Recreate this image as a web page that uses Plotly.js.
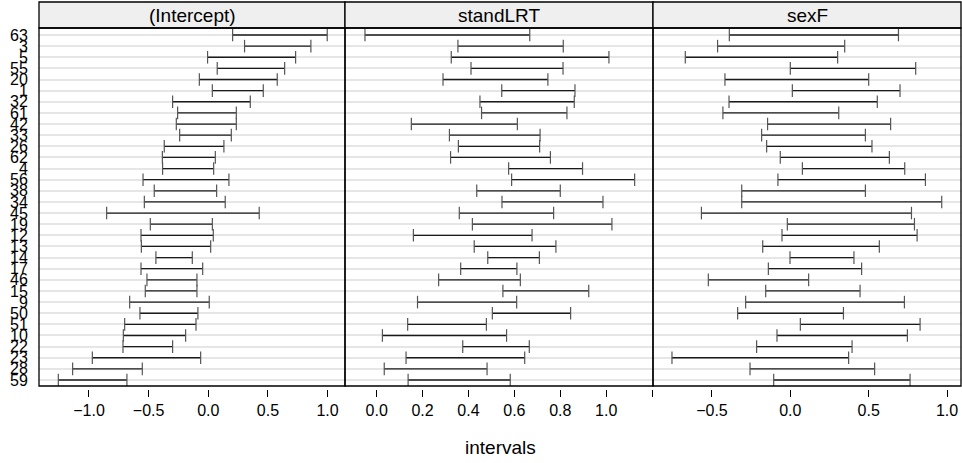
<!DOCTYPE html>
<html>
<head>
<meta charset="utf-8">
<script src="https://cdn.plot.ly/plotly-3.0.1.min.js"></script>
<style>html,body{margin:0;padding:0;background:#fff;}#chart{width:962px;height:463px;}</style>
</head>
<body>
<div id="chart"></div>
<script>
// Group labels (top to bottom)
const groups = ["63","3","5","55","20","1","32","61","42","33","26","62","4","56","38","34","45","19","12","13","14","17","46","15","9","50","51","10","22","23","28","59"];

// (Intercept) interval bounds
const interceptLower = [0.204,0.304,-0.006,0.075,-0.075,0.034,-0.299,-0.257,-0.268,-0.240,-0.369,-0.385,-0.383,-0.547,-0.453,-0.536,-0.852,-0.486,-0.564,-0.561,-0.439,-0.564,-0.514,-0.528,-0.659,-0.573,-0.701,-0.712,-0.715,-0.972,-1.137,-1.257];
const interceptUpper = [0.997,0.860,0.732,0.640,0.578,0.461,0.352,0.235,0.235,0.193,0.131,0.059,0.045,0.173,0.070,0.142,0.427,0.034,0.042,0.020,-0.134,-0.047,-0.095,-0.095,0.008,-0.087,-0.103,-0.190,-0.299,-0.064,-0.553,-0.682];

// standLRT interval bounds
const standLower = [-0.051,0.354,0.325,0.411,0.289,0.545,0.450,0.457,0.151,0.317,0.356,0.322,0.575,0.588,0.436,0.546,0.360,0.417,0.160,0.425,0.484,0.366,0.270,0.550,0.178,0.504,0.135,0.025,0.375,0.128,0.033,0.137];
const standUpper = [0.667,0.813,1.012,0.812,0.746,0.864,0.861,0.829,0.613,0.712,0.710,0.757,0.897,1.124,0.800,0.986,0.771,1.025,0.677,0.781,0.709,0.611,0.626,0.924,0.610,0.845,0.478,0.566,0.665,0.645,0.481,0.582];

// sexF interval bounds
const sexLower = [-0.389,-0.464,-0.670,0.000,-0.417,0.013,-0.391,-0.430,-0.145,-0.183,-0.151,-0.064,0.077,-0.079,-0.310,-0.310,-0.567,-0.019,-0.053,-0.176,-0.002,-0.140,-0.523,-0.157,-0.285,-0.336,0.064,-0.085,-0.215,-0.755,-0.257,-0.106];
const sexUpper = [0.690,0.347,0.302,0.800,0.500,0.700,0.555,0.309,0.640,0.479,0.521,0.632,0.730,0.862,0.479,0.966,0.773,0.792,0.809,0.568,0.406,0.455,0.117,0.445,0.728,0.339,0.828,0.747,0.394,0.372,0.538,0.764];

const panels = ["(Intercept)","standLRT","sexF"];

const FONT = "Liberation Sans, Arial, Helvetica, sans-serif";

function intervalTrace(lo, hi, xa) {
  const xs = [], ys = [];
  for (let i = 0; i < groups.length; i++) {
    xs.push(lo[i], hi[i], null);
    ys.push(groups[i], groups[i], null);
  }
  return {
    type: "scatter", mode: "lines+markers", x: xs, y: ys, xaxis: xa, yaxis: "y",
    connectgaps: false, hoverinfo: "skip", showlegend: false,
    line: {color: "#1a1a1a", width: 1.3},
    marker: {symbol: "line-ns-open", size: 9, color: "#555", line: {color: "#555", width: 1.2}}
  };
}

const data = [
  intervalTrace(interceptLower, interceptUpper, "x"),
  intervalTrace(standLower, standUpper, "x2"),
  intervalTrace(sexLower, sexUpper, "x3")
];

const plotH = 361; // pixel height of plot area
const yBottomFrac = 3 / plotH;
const W = 922;
const d1 = 306 / W, d2 = 614 / W;

const tickFont = {family: FONT, size: 16, color: "#000"};
function xAxis(domain, range, vals, texts) {
  return {
    domain: domain, range: range, anchor: "free", position: 0,
    tickmode: "array", tickvals: vals, ticktext: texts,
    ticks: "outside", ticklen: 7, tickwidth: 1, tickcolor: "#000",
    showline: false, showgrid: false, zeroline: false,
    tickfont: tickFont, fixedrange: true
  };
}

const stripTop = 1 + 26 / plotH;
const shapes = [], annotations = [];
["x", "x2", "x3"].forEach((xa, k) => {
  shapes.push({type: "rect", xref: xa + " domain", yref: "paper", x0: 0, x1: 1, y0: 1, y1: stripTop,
    fillcolor: "#efefef", line: {color: "#000", width: 1.3}, layer: "below"});
  shapes.push({type: "rect", xref: xa + " domain", yref: "y domain", x0: 0, x1: 1, y0: 0, y1: 1,
    fillcolor: "rgba(0,0,0,0)", line: {color: "#000", width: 1.3}, layer: "above"});
  annotations.push({text: panels[k], xref: xa + " domain", yref: "paper", x: 0.5, y: (1 + stripTop) / 2,
    xanchor: "center", yanchor: "middle", showarrow: false, font: {family: FONT, size: 19, color: "#000"}});
});
annotations.push({text: "intervals", xref: "paper", yref: "paper", x: 0.5, y: 0, yshift: -58,
  xanchor: "center", yanchor: "middle", showarrow: false, font: {family: FONT, size: 19, color: "#000"}});

const layout = {
  width: 962, height: 463,
  margin: {l: 39, r: 1, t: 28, b: 463 - 28 - plotH},
  paper_bgcolor: "#fff", plot_bgcolor: "#fff",
  showlegend: false,
  xaxis: xAxis([0, d1], [-1.419, 1.146], [-1, -0.5, 0, 0.5, 1], ["\u22121.0", "\u22120.5", "0.0", "0.5", "1.0"]),
  xaxis2: xAxis([d1, d2], [-0.138, 1.204], [0, 0.2, 0.4, 0.6, 0.8, 1.0, 1.2], ["0.0", "0.2", "0.4", "0.6", "0.8", "1.0", ""]),
  xaxis3: xAxis([d2, 1], [-0.876, 1.089], [-0.5, 0, 0.5, 1.0], ["\u22120.5", "0.0", "0.5", "1.0"]),
  yaxis: {
    domain: [yBottomFrac, 1], anchor: "x", type: "category",
    categoryorder: "array", categoryarray: groups,
    range: [31.539, -0.629],
    tickmode: "array", tickvals: groups, ticktext: groups,
    ticks: "outside", ticklen: 7, tickcolor: "rgba(0,0,0,0)",
    showgrid: true, gridcolor: "#e6e6e6", gridwidth: 2,
    showline: false, zeroline: false,
    tickfont: tickFont, fixedrange: true
  },
  shapes: shapes, annotations: annotations
};

Plotly.newPlot("chart", data, layout, {displayModeBar: false, staticPlot: true});
</script>
</body>
</html>
